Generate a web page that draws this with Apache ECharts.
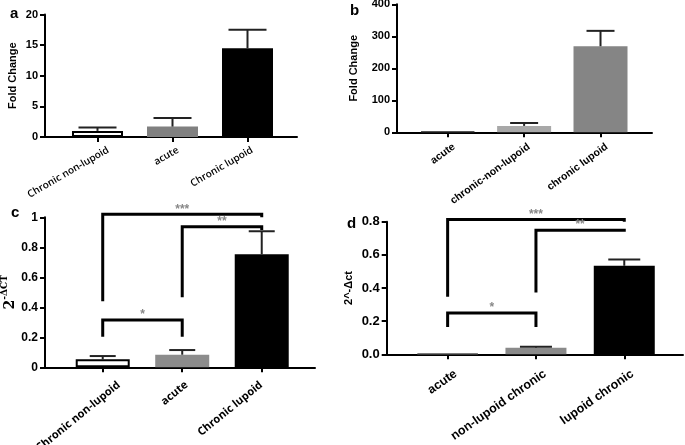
<!DOCTYPE html>
<html><head><meta charset="utf-8">
<script src="https://cdn.jsdelivr.net/npm/echarts@6/dist/echarts.min.js"></script>
<style>html,body{margin:0;padding:0;background:#fff}#c{width:685px;height:445px}</style>
</head><body><div id="c"></div>
<script>
// ---- data ----
const catsA = ['Chronic non-lupoid', 'acute', 'Chronic lupoid'];
const valsA = [1.0, 1.7, 14.5];
const errA = [0.55, 1.4, 3.0];
const ticksA = [0, 5, 10, 15, 20];

const catsB = ['acute', 'chronic-non-lupoid', 'chronic lupoid'];
const valsB = [2, 20, 269];
const errB = [0, 9, 48];
const ticksB = [0, 100, 200, 300, 400];

const catsC = ['Chronic non-lupoid', 'acute', 'Chronic lupoid'];
const valsC = [0.053, 0.084, 0.753];
const errC = [0.022, 0.031, 0.154];
const ticksC = [0, 0.2, 0.4, 0.6, 0.8, 1];
// [from, to, top, left leg bottom, right leg bottom]
const sigC = [[0, 2, 1.02, 0.44, 1.0], [1, 2, 0.937, 0.467, 0.915], [0, 1, 0.315, 0.204, 0.204]];
const sigLabelsC = ['***', '**', '*'];

const catsD = ['acute', 'non-lupoid chronic', 'lupoid chronic'];
const valsD = [0.003, 0.040, 0.534];
const errD = [0, 0.006, 0.038];
const ticksD = [0, 0.2, 0.4, 0.6, 0.8];
const sigD = [[0, 2, 0.813, 0.347, 0.80], [1, 2, 0.749, 0.373, 0.739], [0, 1, 0.249, 0.165, 0.165]];
const sigLabelsD = ['***', '**', '*'];

const FONT = 'Liberation Sans, Arial, sans-serif';
const FONT2 = 'Open Sans, Liberation Sans, sans-serif';

const panels = [
  { cats: catsA, vals: valsA, err: errA, ticks: ticksA,
    colors: [['#fff', '#000', 2], ['#808080', '#808080', 0], ['#000', '#000', 0]],
    left: 45, top: 14.5, width: 252, height: 122.5, xmin: -0.7, xmax: 2.66,
    barW: 51, cap: 38, rot: 30, xfs: 10, yfs: 11, xw: 600, xf: FONT2, lshift: [0.11, 0.04, 0.03], lmargin: 8,
    name: 'Fold Change', nameGap: 27, nameFs: 11, fmt: v => String(v) },
  { cats: catsB, vals: valsB, err: errB, ticks: ticksB,
    colors: [['#222', '#222', 1], ['#a8a8a8', '#a8a8a8', 0], ['#858585', '#858585', 0]],
    left: 397, top: 4.3, width: 255, height: 128, xmin: -0.664, xmax: 2.674,
    barW: 54, cap: 28, rot: 36, xfs: 10.5, yfs: 11, xw: 'bold', xf: FONT, lshift: [0.04, 0.02, 0.04], lmargin: 9,
    name: 'Fold Change', nameGap: 38, nameFs: 11, fmt: v => String(v) },
  { cats: catsC, vals: valsC, err: errC, ticks: ticksC, sig: sigC, sigLabels: sigLabelsC,
    colors: [['#fff', '#000', 2], ['#8c8c8c', '#8c8c8c', 0], ['#000', '#000', 0]],
    left: 45, top: 217.3, width: 270, height: 150, xmin: -0.726, xmax: 2.67,
    barW: 54, cap: 26, rot: 39, xfs: 11, yfs: 12, xw: 'bold', xf: FONT2, lshift: [0.16, 0.01, -0.05], lmargin: 12,
    name: '{a|2}{b|-ΔCT}', nameGap: 28, nameFs: 13, fmt: v => String(v),
    rich: { a: { fontFamily: 'DejaVu Serif, serif', fontSize: 14, color: '#000', lineHeight: 17, verticalAlign: 'bottom' },
            b: { fontFamily: 'DejaVu Serif, serif', fontSize: 9, color: '#000', lineHeight: 17, verticalAlign: 'top' } } },
  { cats: catsD, vals: valsD, err: errD, ticks: ticksD, sig: sigD, sigLabels: sigLabelsD,
    colors: [['#555', '#444', 1], ['#8a8a8a', '#8a8a8a', 0], ['#000', '#000', 0]],
    left: 386.7, top: 221.7, width: 296.3, height: 132.6, xmin: -0.69, xmax: 2.665,
    barW: 61, cap: 32, rot: 35, xfs: 12.5, yfs: 13, xw: 'bold', xf: FONT, lshift: [0.05, 0.06, 0.05], lmargin: 13,
    name: '2^-Δct', nameGap: 32, nameFs: 11, fmt: v => v.toFixed(1) }
];

const option = {
  animation: false,
  backgroundColor: '#fff',
  title: [
    { text: 'a', left: 5, top: 1 },
    { text: 'b', left: 345, top: -2 },
    { text: 'c', left: 6, top: 200 },
    { text: 'd', left: 342, top: 211 }
  ].map(t => Object.assign(t, { textStyle: { fontFamily: FONT, fontWeight: 'bold', fontSize: 15, color: '#000' } })),
  grid: [], xAxis: [], yAxis: [], series: []
};

panels.forEach((p, i) => {
  option.grid.push({ left: p.left, top: p.top, width: p.width, height: p.height, containLabel: false, outerBoundsMode: 'none' });
  option.xAxis.push({
    gridIndex: i, type: 'value', min: p.xmin, max: p.xmax,
    axisLine: { show: true, onZero: false, lineStyle: { color: '#000', width: 2 } },
    splitLine: { show: false },
    axisTick: { show: true, customValues: [0, 1, 2], length: 5, lineStyle: { color: '#000', width: 2 } },
    axisLabel: { customValues: [0, 1, 2].map(k => k + p.lshift[k]), formatter: v => p.cats[Math.round(v)], rotate: p.rot,
      align: 'right', verticalAlign: 'top',
      fontFamily: p.xf, fontWeight: p.xw, fontSize: p.xfs, color: '#000', margin: p.lmargin }
  });
  const last = p.ticks[p.ticks.length - 1];
  option.yAxis.push({
    gridIndex: i, type: 'value', min: p.ticks[0], max: last, interval: p.ticks[1] - p.ticks[0],
    axisLine: { show: true, onZero: false, lineStyle: { color: '#000', width: 2 } },
    axisTick: { show: true, length: 5, lineStyle: { color: '#000', width: 2 } },
    splitLine: { show: false },
    axisLabel: { formatter: p.fmt, fontFamily: FONT, fontWeight: 'bold', fontSize: p.yfs, color: '#000', margin: 7 },
    name: p.name, nameLocation: 'middle', nameGap: p.nameGap, nameRotate: 90,
    nameTextStyle: Object.assign({ fontFamily: FONT, fontWeight: 'bold', fontSize: p.nameFs, color: '#000' }, p.rich ? { rich: p.rich } : {})
  });
  option.series.push({
    type: 'bar', xAxisIndex: i, yAxisIndex: i, barWidth: p.barW,
    data: p.vals.map((v, k) => ({ value: [k, v], itemStyle: { color: p.colors[k][0], borderColor: p.colors[k][1], borderWidth: p.colors[k][2] } }))
  });
  const errData = [];
  p.vals.forEach((v, k) => { if (p.err[k] > 0) errData.push([k, v, v + p.err[k]]); });
  option.series.push({
    type: 'custom', xAxisIndex: i, yAxisIndex: i, z: 5,
    encode: { x: 0, y: [1, 2] },
    data: errData,
    renderItem: (params, api) => {
      const x = api.value(0), v = api.value(1), t = api.value(2);
      const p0 = api.coord([x, v]), p1 = api.coord([x, t]);
      const w = p.cap / 2;
      return { type: 'group', children: [
        { type: 'line', shape: { x1: p0[0], y1: p0[1], x2: p1[0], y2: p1[1] }, style: { stroke: '#222', lineWidth: 2 } },
        { type: 'line', shape: { x1: p1[0] - w, y1: p1[1], x2: p1[0] + w, y2: p1[1] }, style: { stroke: '#222', lineWidth: 2 } }
      ] };
    }
  });
  if (p.sig) {
    option.series.push({
      type: 'custom', xAxisIndex: i, yAxisIndex: i, z: 6,
      encode: { x: [0, 1], y: [2, 3, 4] },
      data: p.sig,
      renderItem: (params, api) => {
        const x1 = api.value(0), x2 = api.value(1), top = api.value(2), lb = api.value(3), rb = api.value(4);
        const pts = [api.coord([x1, lb]), api.coord([x1, top]), api.coord([x2, top]), api.coord([x2, rb])];
        const mid = api.coord([(x1 + x2) / 2, top]);
        return { type: 'group', children: [
          { type: 'polyline', shape: { points: pts }, style: { stroke: '#000', lineWidth: 3, fill: null, lineJoin: 'miter' } },
          { type: 'text', x: mid[0], y: mid[1] + 1, style: { text: p.sigLabels[params.dataIndex], fill: '#888',
            font: 'bold 12px Liberation Sans', align: 'center', verticalAlign: 'bottom' } }
        ] };
      }
    });
  }
});

const chart = echarts.init(document.getElementById('c'), null, { renderer: 'canvas' });
chart.setOption(option);
</script>
</body></html>
